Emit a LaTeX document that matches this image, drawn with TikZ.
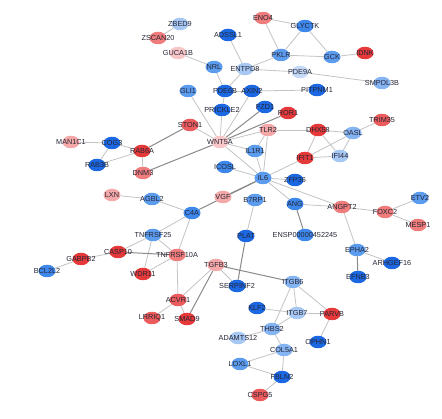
\documentclass[tikz,border=0pt]{standalone}
\usepackage{fontspec}
\setmainfont{Liberation Sans}
\usetikzlibrary{shapes.geometric,backgrounds}
\definecolor{cA}{HTML}{1C68E2}
\definecolor{cB}{HTML}{3E88EC}
\definecolor{cC}{HTML}{5C9CEF}
\definecolor{cD}{HTML}{85B4F2}
\definecolor{cE}{HTML}{A8C8F4}
\definecolor{cF}{HTML}{C5DAF7}
\definecolor{rA}{HTML}{E63A3A}
\definecolor{rB}{HTML}{EC5C5C}
\definecolor{rC}{HTML}{F07C7C}
\definecolor{rD}{HTML}{F5A8A8}
\definecolor{rE}{HTML}{F8C6C6}
\definecolor{edgeL}{HTML}{C4C4C4}
\definecolor{edgeD}{HTML}{8A8A8A}
\definecolor{txt}{HTML}{252535}
\tikzset{
  nd/.style={ellipse,minimum width=17pt,minimum height=12.5pt,inner sep=0pt,draw=none},
  lbl/.style={font=\fontsize{7.3}{8}\selectfont,text=txt,inner sep=0pt},
  ed/.style={draw=edgeL,line width=0.8pt},
  edk/.style={draw=edgeD,line width=1pt},
}
\newcommand{\gn}[5]{\node[nd,fill=#4,label={[lbl]center:#5}] (#1) at (#2,#3) {};}
\begin{document}
\begin{tikzpicture}[x=1pt,y=-1pt]
\useasboundingbox (0,0) rectangle (442,419);
% nodes
\gn{ZBED9}{180}{24}{cE}{ZBED9}
\gn{ZSCAN20}{158}{38}{rC}{ZSCAN20}
\gn{GUCA1B}{178}{53}{rE}{GUCA1B}
\gn{ADSSL1}{228}{35}{cA}{ADSSL1}
\gn{ENO4}{263}{18}{rC}{ENO4}
\gn{GLYCTK}{305}{26}{cB}{GLYCTK}
\gn{PKLR}{281}{55}{cC}{PKLR}
\gn{GCK}{332}{57}{cC}{GCK}
\gn{IDNK}{365}{53}{rA}{IDNK}
\gn{NRL}{214}{67}{cC}{NRL}
\gn{ENTPD8}{245}{69}{cE}{ENTPD8}
\gn{PDE9A}{300}{72}{cF}{PDE9A}
\gn{SMPDL3B}{382}{83}{cD}{SMPDL3B}
\gn{GLI1}{188}{91}{cC}{GLI1}
\gn{PDE6B}{225}{91}{cA}{PDE6B}
\gn{AXIN2}{252}{91}{cA}{AXIN2}
\gn{PITPNM1}{317}{90}{cA}{PITPNM1}
\gn{PRICKLE2}{222}{110}{cA}{PRICKLE2}
\gn{FZD1}{265}{107}{cA}{FZD1}
\gn{ROR1}{288}{113}{rA}{ROR1}
\gn{STON1}{190}{125}{rB}{STON1}
\gn{TLR2}{268}{130}{rD}{TLR2}
\gn{WNT5A}{220}{142}{rE}{WNT5A}
\gn{TRIM35}{382}{120}{rB}{TRIM35}
\gn{DHX58}{318}{130}{rA}{DHX58}
\gn{OASL}{353}{133}{cD}{OASL}
\gn{IFIT1}{305}{158}{rA}{IFIT1}
\gn{IFI44}{340}{156}{cE}{IFI44}
\gn{MAN1C1}{71}{142}{rD}{MAN1C1}
\gn{COG3}{112}{143}{cA}{COG3}
\gn{RAB6A}{142}{151}{rA}{RAB6A}
\gn{RAB3B}{97}{165}{cA}{RAB3B}
\gn{DNM3}{143}{173}{rC}{DNM3}
\gn{IL1R1}{255}{151}{cC}{IL1R1}
\gn{ICOSL}{225}{167}{cB}{ICOSL}
\gn{IL6}{263}{178}{cC}{IL6}
\gn{ZFP36}{295}{180}{cA}{ZFP36}
\gn{LXN}{112}{195}{rD}{LXN}
\gn{AGBL2}{152}{199}{cC}{AGBL2}
\gn{VGF}{223}{197}{rD}{VGF}
\gn{B7RP1}{255}{200}{cC}{B7RP1}
\gn{C4A}{192}{213}{cB}{C4A}
\gn{ANG}{295}{204}{cB}{ANG}
\gn{ANGPT2}{342}{207}{rC}{ANGPT2}
\gn{FOXC2}{385}{212}{rC}{FOXC2}
\gn{ETV2}{420}{198}{cC}{ETV2}
\gn{MESP1}{418}{225}{rC}{MESP1}
\gn{ENSP}{305}{235}{cB}{ENSP00000452245}
\gn{EPHA2}{357}{250}{cC}{EPHA2}
\gn{ARHGEF16}{392}{263}{cA}{ARHGEF16}
\gn{EFNB3}{358}{277}{cA}{EFNB3}
\gn{TNFRSF25}{153}{235}{cC}{TNFRSF25}
\gn{CASP10}{118}{252}{rA}{CASP10}
\gn{GABPB2}{81}{259}{rA}{GABPB2}
\gn{BCL2L2}{47}{271}{cB}{BCL2L2}
\gn{WDR11}{143}{274}{rA}{WDR11}
\gn{TNFRSF10A}{177}{255}{rC}{TNFRSF10A}
\gn{PLAT}{246}{236}{cA}{PLAT}
\gn{TGFB3}{216}{265}{rD}{TGFB3}
\gn{SERPINF2}{237}{286}{cA}{SERPINF2}
\gn{ITGB6}{293}{282}{cD}{ITGB6}
\gn{ACVR1}{178}{300}{rB}{ACVR1}
\gn{LRRIQ1}{152}{318}{rB}{LRRIQ1}
\gn{SMAD9}{187}{319}{rA}{SMAD9}
\gn{KLF2}{257}{308}{cA}{KLF2}
\gn{ITGB7}{297}{313}{cE}{ITGB7}
\gn{PARVB}{332}{314}{rA}{PARVB}
\gn{OPHN1}{318}{342}{cA}{OPHN1}
\gn{THBS2}{272}{329}{cD}{THBS2}
\gn{ADAMTS12}{238}{338}{cE}{ADAMTS12}
\gn{COL5A1}{284}{350}{cD}{COL5A1}
\gn{LOXL1}{240}{364}{cC}{LOXL1}
\gn{FBLN2}{282}{377}{cA}{FBLN2}
\gn{CSPG5}{260}{395}{rB}{CSPG5}
% edges
\begin{pgfonlayer}{background}
\fill[white] (0,0) rectangle (442,419);
\foreach \a/\b in {ZBED9/ZSCAN20,GUCA1B/NRL,ADSSL1/ENTPD8,ENO4/PKLR,ENO4/GLYCTK,
  GLYCTK/PKLR,GLYCTK/GCK,PKLR/GCK,GCK/IDNK,PKLR/ENTPD8,ENTPD8/PDE9A,PDE9A/SMPDL3B,
  NRL/PDE6B,ENTPD8/PDE6B,PDE6B/AXIN2,AXIN2/PITPNM1,GLI1/WNT5A,PDE6B/PRICKLE2,
  PRICKLE2/WNT5A,AXIN2/WNT5A,TLR2/WNT5A,STON1/WNT5A,WNT5A/IL6,WNT5A/IL1R1,
  MAN1C1/COG3,COG3/RAB6A,COG3/RAB3B,RAB3B/RAB6A,RAB6A/DNM3,
  TLR2/IL6,TLR2/IL1R1,IL1R1/IL6,ICOSL/IL6,IL6/ZFP36,IL6/ANG,IL6/ANGPT2,IL6/IFIT1,
  TLR2/DHX58,DHX58/OASL,DHX58/IFIT1,DHX58/IFI44,OASL/IFIT1,OASL/IFI44,IFIT1/IFI44,OASL/TRIM35,
  B7RP1/PLAT,ANG/ANGPT2,ANGPT2/FOXC2,FOXC2/ETV2,FOXC2/MESP1,ANGPT2/EPHA2,EPHA2/ARHGEF16,
  LXN/AGBL2,AGBL2/C4A,C4A/TNFRSF25,C4A/TNFRSF10A,TNFRSF25/CASP10,TNFRSF25/WDR11,
  TNFRSF25/TNFRSF10A,TNFRSF10A/WDR11,GABPB2/CASP10,GABPB2/BCL2L2,TNFRSF10A/ACVR1,
  TGFB3/ACVR1,TGFB3/SERPINF2,ACVR1/LRRIQ1,ACVR1/SMAD9,
  ITGB6/ITGB7,ITGB6/PARVB,ITGB6/THBS2,ITGB7/PARVB,ITGB7/THBS2,KLF2/ITGB7,PARVB/OPHN1,
  THBS2/ADAMTS12,THBS2/COL5A1,COL5A1/LOXL1,COL5A1/FBLN2,LOXL1/FBLN2,FBLN2/CSPG5}
  {\draw[ed] (\a) -- (\b);}
\foreach \a/\b in {C4A/IL6,VGF/IL6,PLAT/SERPINF2,ANG/ENSP,CASP10/TNFRSF10A,TGFB3/SMAD9,
  EPHA2/EFNB3,WNT5A/ROR1,WNT5A/FZD1,STON1/RAB6A,DNM3/WNT5A,TGFB3/ITGB6}
  {\draw[edk] (\a) -- (\b);}
\end{pgfonlayer}
\end{tikzpicture}
\end{document}
